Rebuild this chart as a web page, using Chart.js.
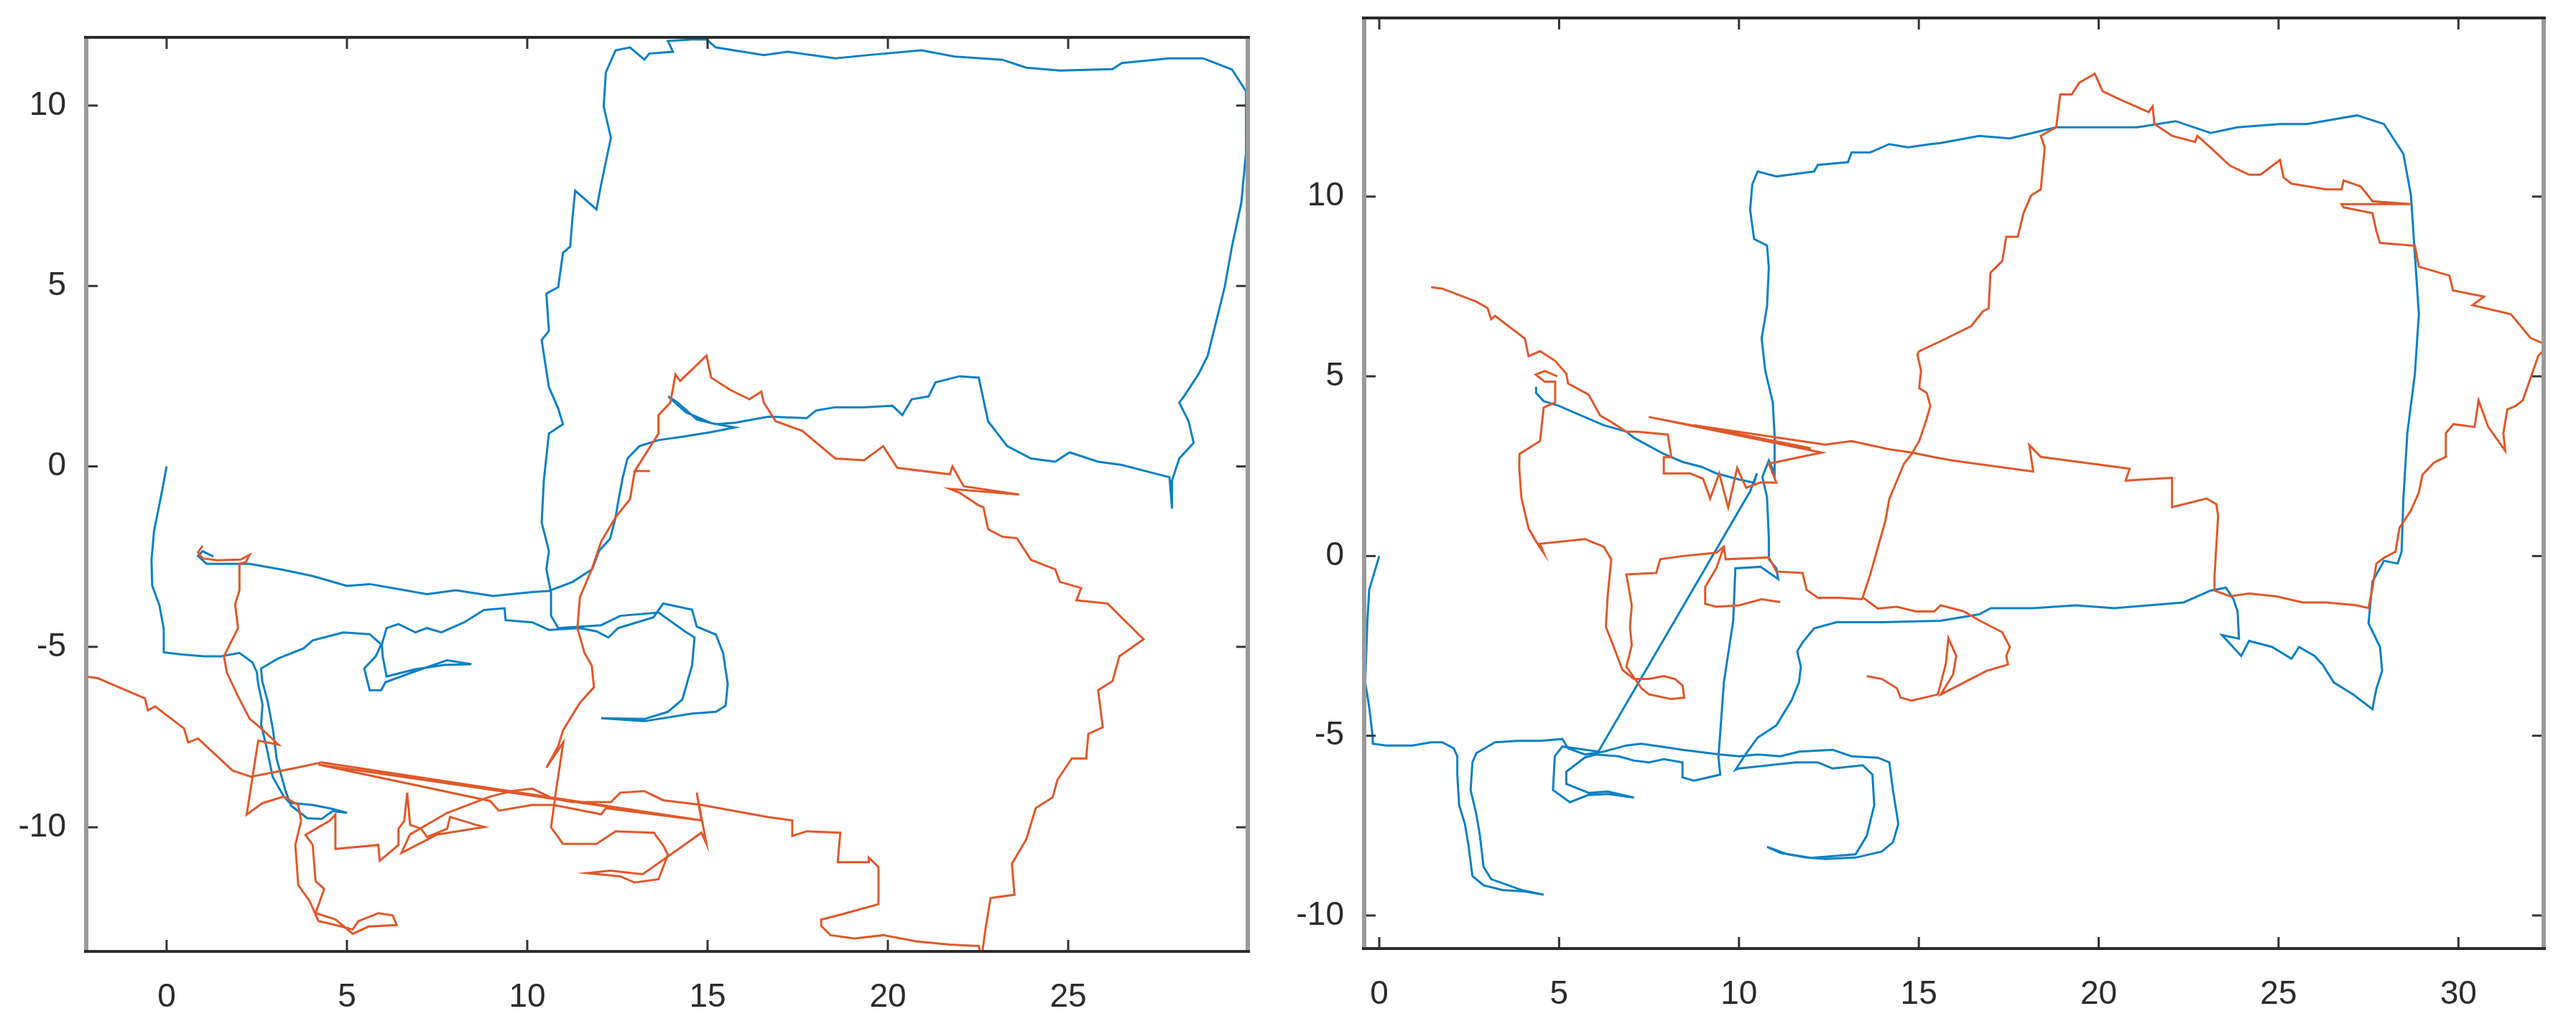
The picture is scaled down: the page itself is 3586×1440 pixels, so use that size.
<!DOCTYPE html>
<html>
<head>
<meta charset="utf-8">
<script src="https://cdn.jsdelivr.net/npm/chart.js@4.4.1/dist/chart.umd.min.js"></script>
<style>
  body { margin: 0; background: #fff; }
  #wrap { position: relative; width: 3586px; height: 1440px; }
  canvas { position: absolute; top: 0; }
</style>
</head>
<body>
<div id="wrap">
  <canvas id="leftChart" width="1800" height="1440" style="left:0"></canvas>
  <canvas id="rightChart" width="1786" height="1440" style="left:1800px"></canvas>
</div>
<script>
// trajectories, [x, y] pairs (null = pen up)
const leftBlue = [
  [0,0],[-0.15,-0.8],[-0.35,-1.8],[-0.42,-2.6],[-0.4,-3.3],[-0.2,-3.85],[-0.08,-4.5],[-0.08,-5.15],
  [0.44,-5.21],[1.03,-5.26],[1.51,-5.26],[2.02,-5.17],[2.38,-5.43],[2.5,-5.7],
  [2.54,-6.04],[2.66,-6.6],[2.62,-7.15],[2.78,-7.82],[2.94,-8.6],[3.25,-9.15],[3.41,-9.32],[4.05,-9.38],[4.6,-9.49],[5.0,-9.6],
  [4.6,-9.55],[4.3,-9.77],[3.9,-9.75],[3.45,-9.4],[3.3,-9.0],[3.05,-8.1],[2.95,-7.3],[2.8,-6.5],[2.65,-5.95],[2.62,-5.6],
  [3.1,-5.32],[3.8,-5.04],[4.05,-4.82],[4.9,-4.6],[5.63,-4.65],[5.95,-4.93],[5.8,-5.26],[5.48,-5.6],[5.63,-6.2],[5.95,-6.2],
  [6.07,-5.98],[6.83,-5.7],[7.78,-5.37],[8.45,-5.48],[7.7,-5.5],[6.9,-5.62],[6.1,-5.82],[5.99,-5.26],[5.97,-4.93],[6.1,-4.48],
  [6.43,-4.37],[6.9,-4.6],[7.22,-4.48],[7.62,-4.6],[8.25,-4.32],[8.8,-3.98],[9.37,-3.93],[9.4,-4.26],[10.14,-4.32],[10.6,-4.53],
  [11.46,-4.48],[11.92,-4.57],[12.25,-4.74],[12.52,-4.48],[13.5,-4.18],[13.77,-3.8],[14.57,-3.97],[14.7,-4.44],[15.23,-4.66],
  [15.43,-5.17],[15.56,-6.03],[15.5,-6.63],[15.23,-6.8],[14.57,-6.85],[13.25,-7.06],[12.05,-6.98],[13.25,-7.0],[13.9,-6.8],
  [14.3,-6.46],[14.57,-5.52],[14.64,-4.74],[14.37,-4.57],[13.64,-4.05],[12.58,-4.14],[12.05,-4.4],[11.3,-4.45],[10.86,-4.48],
  [10.66,-4.14],[10.66,-3.5],[10.53,-2.85],[10.6,-2.34],[10.4,-1.56],[10.46,-0.39],[10.6,0.91],[10.99,1.17],[10.86,1.6],
  [10.6,2.2],[10.4,3.5],[10.6,3.76],[10.53,4.79],[10.86,4.97],[10.99,5.92],[11.19,6.09],[11.26,6.95],[11.33,7.64],[11.92,7.12],
  [12.05,7.82],[12.32,9.11],[12.12,9.97],[12.18,10.92],[12.45,11.53],[12.85,11.61],[13.25,11.27],[13.38,11.44],[14.04,11.49],
  [13.9,11.79],[14.57,11.83],[14.97,11.83],[15.23,11.61],[16.56,11.4],[17.22,11.49],[18.54,11.31],[19.47,11.4],[20.93,11.53],
  [21.85,11.36],[23.17,11.27],[23.84,11.05],[24.77,10.97],[26.23,11.01],[26.49,11.18],[27.81,11.31],[28.74,11.31],[29.54,11.0],
  [29.93,10.4],[29.93,8.68],[29.8,7.3],[29.54,6.09],[29.34,4.97],[28.87,3.07],[28.61,2.55],[28.21,1.94],[28.08,1.77],[28.34,1.25],
  [28.48,0.65],[28.08,0.22],[27.88,-0.39],[27.88,-1.17],[27.81,-0.3],[27.15,-0.13],[26.49,0.04],[25.83,0.13],[25.04,0.39],
  [24.64,0.13],[23.97,0.22],[23.31,0.56],[22.78,1.25],[22.52,2.46],[21.99,2.5],[21.32,2.33],[21.13,1.94],[20.66,1.86],[20.4,1.42],
  [20.13,1.68],[19.34,1.64],[18.54,1.64],[18.01,1.55],[17.75,1.34],[16.69,1.38],[15.76,1.21],[15.23,1.17],[14.7,1.3],[14.17,1.77],
  [13.91,1.94],[14.4,1.5],[15.1,1.2],[15.76,1.08],[15.1,0.95],[14.3,0.82],[13.64,0.73],[13.11,0.56],[12.78,0.22],[12.65,-0.3],
  [12.52,-0.99],[12.45,-1.41],[12.3,-2.0],[11.99,-2.34],[11.8,-2.85],[11.26,-3.2],[10.6,-3.45],[10.14,-3.48],[9.05,-3.59],
  [8.02,-3.43],[7.22,-3.54],[6.27,-3.37],[5.63,-3.26],[5.0,-3.31],[4.05,-3.04],[3.25,-2.87],[2.3,-2.7],[1.11,-2.7],[0.87,-2.48],
  [1.0,-2.35],[1.3,-2.5]
];

const leftOrange = [
  [1.0,-2.2],[0.87,-2.38],[1.0,-2.55],[1.4,-2.6],[2.05,-2.58],[2.3,-2.45],[2.2,-2.65],[2.02,-2.7],[2.02,-3.43],[1.9,-3.82],
  [1.98,-4.48],[1.59,-5.26],[1.67,-5.71],[1.98,-6.37],[2.3,-6.99],[2.62,-7.26],[3.1,-7.71],[2.54,-7.6],[2.22,-9.65],[2.66,-9.33],
  [3.25,-9.15],[3.65,-9.38],[3.73,-9.82],[3.57,-10.49],[3.65,-11.6],[3.97,-12.05],[4.21,-12.6],[4.68,-12.71],[5.16,-12.83],
  [5.32,-12.6],[5.87,-12.38],[6.27,-12.44],[6.38,-12.71],[5.6,-12.75],[5.16,-12.95],[4.68,-12.55],[4.13,-12.38],[4.37,-11.71],
  [4.13,-11.49],[4.05,-10.49],[3.85,-10.21],[4.52,-9.82],[4.68,-9.65],[4.68,-10.6],[5.87,-10.49],[5.91,-10.93],[6.43,-10.49],
  [6.43,-10.04],[6.59,-9.82],[6.67,-9.04],[6.75,-9.93],[7.06,-10.04],[7.22,-10.27],[7.78,-10.04],[7.86,-9.71],[8.57,-9.93],
  [8.81,-9.99],[7.5,-10.2],[6.51,-10.71],[6.75,-10.2],[7.78,-9.6],[8.97,-9.15],[9.6,-8.99],[10.14,-8.93],[10.73,-9.21],
  [11.26,-9.3],[12.32,-9.3],[12.58,-9.04],[13.25,-9.0],[13.77,-9.25],[14.83,-9.38],[16.69,-9.72],[17.35,-9.81],[17.35,-10.24],
  [17.75,-10.11],[18.68,-10.15],[18.61,-10.97],[19.47,-10.97],[19.47,-10.84],[19.74,-11.1],[19.74,-12.13],[18.8,-12.39],
  [18.15,-12.56],[18.15,-12.73],[18.41,-12.99],[19.07,-13.08],[19.87,-12.99],[20.79,-13.16],[21.72,-13.25],[22.52,-13.29],
  [22.6,-13.6],[22.72,-12.73],[22.85,-11.96],[23.51,-11.87],[23.44,-11.01],[23.84,-10.33],[24.1,-9.47],[24.57,-9.17],
  [24.7,-8.69],[25.1,-8.09],[25.5,-8.09],[25.56,-7.41],[25.96,-7.23],[25.83,-6.2],[26.23,-5.95],[26.42,-5.26],[27.09,-4.79],
  [26.09,-3.8],[25.23,-3.71],[25.36,-3.37],[24.77,-3.2],[24.64,-2.85],[23.97,-2.59],[23.58,-1.99],[23.18,-1.95],[22.78,-1.74],
  [22.65,-1.13],[22.52,-1.08],[21.99,-0.73],[21.72,-0.62],[23.64,-0.78],[22.1,-0.55],[21.79,0.0],[21.72,-0.22],[20.26,-0.04],
  [19.87,0.56],[19.34,0.17],[18.54,0.22],[17.62,0.99],[16.89,1.25],[16.56,1.77],[16.49,2.07],[16.16,1.86],[15.63,2.12],
  [15.1,2.46],[14.97,3.07],[14.7,2.81],[14.24,2.37],[14.11,2.55],[13.97,1.77],[13.64,1.42],[13.64,0.91],[12.98,-0.13],
  [13.4,-0.13],[12.98,-0.13],[12.85,-0.91],[12.45,-1.41],[12.05,-2.08],[11.79,-2.85],[11.46,-3.63],[11.39,-4.48],[11.59,-5.17],
  [11.79,-5.52],[11.85,-6.12],[11.46,-6.55],[10.99,-7.32],[10.86,-7.75],[10.53,-8.35],[11.0,-7.65],[10.79,-9.04],[10.66,-10.0],
  [10.99,-10.46],[11.92,-10.46],[12.45,-10.11],[13.51,-10.15],[13.77,-10.5],[13.9,-10.76],[13.64,-11.44],[12.98,-11.53],
  [12.58,-11.36],[11.66,-11.27],[12.3,-11.2],[13.2,-11.3],[14.2,-10.6],[14.83,-10.15],[14.97,-10.46],[14.7,-9.04],[14.83,-9.81],
  [4.21,-8.26],[8.97,-9.27],[9.21,-9.54],[10.14,-9.38],[10.73,-9.38],[12.05,-9.64],[12.18,-9.47],[14.83,-9.81],[4.3,-8.2],
  [3.6,-8.35],[2.34,-8.6],[1.83,-8.43],[0.87,-7.54],[0.6,-7.65],[0.48,-7.26],[-0.32,-6.65],[-0.52,-6.76],[-0.6,-6.43],
  [-1.51,-6.04],[-1.9,-5.87],[-2.4,-5.8]
];

const rightBlue = [
  [0,0],[-0.28,-0.94],[-0.33,-1.8],[-0.39,-3.51],[-0.28,-4.2],[-0.18,-5.05],[-0.18,-5.22],[0.19,-5.27],[0.92,-5.27],[1.44,-5.18],
  [1.75,-5.18],[2.07,-5.35],[2.17,-5.57],[2.17,-6.08],[2.22,-6.93],[2.38,-7.45],[2.48,-8.05],[2.59,-8.9],[2.9,-9.16],[3.42,-9.29],
  [4.05,-9.33],[4.57,-9.42],[3.95,-9.29],[3.11,-8.99],[2.9,-8.65],[2.8,-7.79],[2.7,-7.19],[2.54,-6.51],[2.59,-5.74],[2.7,-5.48],
  [3.22,-5.18],[3.84,-5.14],[4.47,-5.14],[5.09,-5.09],[5.25,-5.35],[5.72,-5.52],[6.24,-5.44],[6.87,-5.27],[7.28,-5.22],[7.91,-5.31],
  [8.43,-5.39],[9.48,-5.52],[10.0,-5.57],[10.52,-5.52],[11.15,-5.57],[11.67,-5.44],[12.6,-5.39],[13.13,-5.57],[13.86,-5.61],
  [14.18,-5.74],[14.28,-6.51],[14.43,-7.45],[14.28,-7.96],[13.97,-8.22],[13.24,-8.39],[12.4,-8.43],[11.88,-8.39],[11.36,-8.3],
  [10.78,-8.09],[11.15,-8.26],[12.0,-8.4],[13.24,-8.3],[13.55,-7.79],[13.76,-6.93],[13.71,-6.08],[13.44,-5.82],[12.6,-5.91],
  [12.19,-5.74],[11.57,-5.74],[10.83,-5.82],[10.0,-5.91],[9.9,-5.95],[10.21,-5.48],[10.52,-5.05],[11.04,-4.71],[11.46,-4.02],
  [11.67,-3.51],[11.72,-3.08],[11.62,-2.65],[11.77,-2.4],[12.09,-2.01],[12.71,-1.84],[13.97,-1.84],[15.6,-1.8],[16.68,-1.62],
  [17.0,-1.45],[18.18,-1.45],[19.36,-1.37],[20.43,-1.45],[21.39,-1.37],[22.36,-1.29],[23.11,-0.96],[23.54,-0.88],[23.75,-1.21],
  [23.86,-1.54],[23.9,-2.3],[23.43,-2.2],[23.96,-2.78],[24.18,-2.36],[24.82,-2.53],[25.36,-2.86],[25.57,-2.53],[26.0,-2.78],
  [26.22,-3.02],[26.54,-3.52],[27.07,-3.85],[27.61,-4.26],[27.72,-3.69],[27.88,-3.19],[27.82,-2.53],[27.5,-1.87],[27.61,-0.71],
  [27.93,-0.13],[28.31,-0.21],[28.42,0.12],[28.47,1.6],[28.58,3.42],[28.79,5.07],[28.9,6.73],[28.79,8.38],[28.68,10.03],
  [28.47,11.19],[27.93,12.02],[27.18,12.26],[25.79,12.02],[25.04,12.02],[23.86,11.93],[23.11,11.77],[22.14,12.1],[21.07,11.93],
  [20.11,11.93],[18.82,11.93],[17.53,11.62],[16.68,11.69],[15.6,11.49],[15.32,11.46],[14.7,11.37],[14.18,11.46],[13.65,11.23],
  [13.13,11.23],[13.03,10.96],[12.19,10.88],[12.09,10.7],[11.04,10.56],[10.52,10.7],[10.37,10.34],[10.31,9.63],[10.42,8.82],
  [10.78,8.64],[10.83,8.02],[10.78,6.95],[10.63,6.05],[10.73,5.16],[10.94,4.27],[10.99,3.38],[10.99,2.3],[10.83,2.66],
  [10.65,2.2],[10.78,1.63],[10.83,0.51],[10.83,-0.09],[11.04,-0.34],[11.09,-0.64],[10.6,-0.3],[9.9,-0.34],[9.84,-1.8],
  [9.58,-3.51],[9.43,-5.6],[9.48,-6.08],[8.75,-6.25],[8.43,-6.16],[8.43,-5.74],[7.91,-5.65],[7.5,-5.74],[7.08,-5.69],[6.66,-5.57],
  [6.03,-5.52],[5.72,-5.6],[5.2,-6.0],[5.2,-6.34],[5.82,-6.59],[6.35,-6.55],[7.08,-6.72],[6.35,-6.62],[5.8,-6.65],[5.3,-6.85],
  [4.83,-6.51],[4.88,-5.57],[5.09,-5.3],[6.09,-5.44],[10.31,1.8],[10.5,2.3],[10.42,2.04],[10.0,2.13],[9.37,2.3],[8.96,2.48],
  [8.43,2.62],[7.91,2.84],[7.08,3.29],[6.87,3.46],[6.24,3.64],[5.82,3.82],[4.99,4.18],[4.57,4.31],[4.36,4.54],[4.36,4.71]
];

const rightOrange = [
  [1.44,7.48],[1.75,7.44],[2.69,7.08],[3.01,6.9],[3.11,6.59],[3.22,6.68],[4.05,6.05],[4.15,5.56],[4.47,5.7],[4.89,5.43],
  [5.2,5.07],[5.25,4.8],[5.82,4.49],[6.14,3.91],[6.45,3.73],[6.87,3.46],[7.18,3.46],[8.02,3.38],[8.12,2.75],[7.91,2.75],
  [7.91,2.3],[8.64,2.3],[9.0,2.15],[9.2,1.6],[9.45,2.3],[9.7,1.35],[9.95,2.45],[10.2,1.9],[10.6,2.05],[11.04,2.04],[10.83,2.57],
  [12.3,2.88],[7.49,3.87],[12.0,3.0],[8.75,3.64],[12.4,3.1],[13.13,3.2],[14.18,2.97],[14.8,2.88],[15.43,2.75],[15.93,2.66],
  [18.18,2.35],[18.07,3.09],[18.39,2.76],[20.86,2.43],[20.75,2.1],[22.04,2.18],[22.04,1.36],[23.0,1.6],[23.27,1.44],[23.32,1.11],
  [23.22,-0.55],[23.22,-0.96],[23.65,-1.12],[24.18,-1.04],[24.93,-1.12],[25.68,-1.29],[26.32,-1.29],[27.18,-1.37],[27.5,-1.45],
  [27.61,-0.88],[27.72,-0.21],[27.93,-0.05],[28.25,0.12],[28.36,0.78],[28.68,1.27],[28.9,1.77],[29.0,2.26],[29.32,2.6],
  [29.65,2.76],[29.65,3.42],[29.86,3.67],[30.45,3.59],[30.56,4.33],[30.83,3.59],[31.3,2.93],[31.25,3.42],[31.36,4.08],
  [31.58,4.17],[31.79,4.33],[32.22,5.57],[32.5,5.85],[32.0,6.07],[31.46,6.73],[30.39,6.98],[30.71,7.22],[29.85,7.39],
  [29.75,7.8],[28.9,8.05],[28.79,8.63],[27.82,8.71],[27.72,9.04],[27.61,9.54],[26.81,9.7],[26.75,9.79],[28.68,9.79],
  [27.61,9.87],[27.29,10.28],[26.81,10.45],[26.75,10.2],[26.32,10.2],[25.36,10.36],[25.14,10.53],[25.04,11.02],[24.5,10.61],
  [24.18,10.61],[23.65,10.86],[23.11,11.36],[22.74,11.69],[22.68,11.52],[22.04,11.69],[21.55,12.02],[21.5,12.51],[21.39,12.35],
  [20.64,12.68],[20.11,12.93],[19.89,13.42],[19.46,13.17],[19.25,12.84],[18.93,12.84],[18.82,11.93],[18.39,11.69],[18.5,11.36],
  [18.39,10.2],[18.12,10.03],[17.91,9.54],[17.75,8.88],[17.43,8.88],[17.32,8.21],[16.99,7.88],[16.94,6.89],[16.78,6.81],
  [16.46,6.4],[15.61,5.98],[15.01,5.7],[14.96,5.61],[15.06,5.16],[15.01,4.67],[15.22,4.54],[15.32,4.18],[15.22,3.82],
  [15.01,3.2],[14.8,2.84],[14.59,2.57],[14.18,1.59],[14.07,0.98],[13.65,-0.51],[13.44,-1.15],[13.86,-1.46],[14.39,-1.41],
  [14.91,-1.54],[15.43,-1.54],[15.61,-1.37],[16.25,-1.54],[16.68,-1.79],[17.32,-2.12],[17.53,-2.53],[17.43,-2.78],[17.48,-3.02],
  [16.89,-3.19],[16.25,-3.52],[15.61,-3.85],[15.95,-3.3],[16.04,-2.78],[15.82,-2.28],[15.75,-3.0],[15.53,-3.85],[14.8,-4.02],
  [14.49,-3.94],[14.39,-3.68],[13.97,-3.42],[13.55,-3.34],
  null,
  [13.44,-1.2],[12.81,-1.16],[12.19,-1.16],[11.88,-0.94],[11.77,-0.47],[11.04,-0.43],[10.83,-0.04],[9.63,-0.09],[9.58,0.26],
  [9.37,0.09],[8.43,0.0],[7.81,-0.09],[7.7,-0.47],[6.87,-0.51],[7.02,-1.37],[6.97,-1.97],[7.02,-2.48],[6.87,-3.08],[7.29,-3.68],
  [7.5,-3.85],[8.12,-3.98],[8.48,-3.94],[8.43,-3.6],[8.22,-3.42],[7.91,-3.34],[7.5,-3.42],[7.08,-3.42],[6.76,-3.17],[6.5,-2.48],
  [6.3,-1.97],[6.35,-1.11],[6.45,-0.09],[6.24,0.26],[5.72,0.47],[4.47,0.34],[4.57,0.09],[4.37,0.39],[4.15,0.77],[3.95,1.63],
  [3.89,2.48],[3.9,2.84],[4.47,3.2],[4.57,4.13],[4.89,4.27],[4.89,4.85],[4.6,4.85],[4.35,5.05],[4.6,5.15],[4.95,5.0],
  null,
  [9.58,0.26],[9.37,-0.34],[9.06,-0.86],[9.06,-1.33],[9.37,-1.41],[10.0,-1.37],[10.63,-1.2],[11.15,-1.28]
];

const tickStep = 5;
const blue = '#0b80c4';
const orange = '#e0582a';

const toPoints = path => path.map(p => p ? { x: p[0], y: p[1] } : { x: null, y: null });

// matlab style box: ticks pointing inward on all four sides
const boxPlugin = {
  id: 'box',
  afterDatasetsDraw(chart) {
    const { ctx, chartArea: a, scales } = chart;
    const seg = (x1, y1, x2, y2) => { ctx.beginPath(); ctx.moveTo(x1, y1); ctx.lineTo(x2, y2); ctx.stroke(); };
    ctx.save();
    ctx.strokeStyle = '#333';
    ctx.lineWidth = 3;
    scales.x.ticks.forEach(t => {
      const px = scales.x.getPixelForValue(t.value);
      seg(px, a.bottom, px, a.bottom - 16);
      seg(px, a.top, px, a.top + 16);
    });
    scales.y.ticks.forEach(t => {
      const py = scales.y.getPixelForValue(t.value);
      seg(a.left, py, a.left + 16, py);
      seg(a.right, py, a.right - 16, py);
    });
    ctx.strokeStyle = '#9a9a9a';
    ctx.lineWidth = 6;
    seg(a.left, a.top - 2, a.left, a.bottom + 2);
    seg(a.right, a.top - 2, a.right, a.bottom + 2);
    ctx.strokeStyle = '#2b2b2b';
    ctx.lineWidth = 4;
    seg(a.left - 3, a.top, a.right + 3, a.top);
    seg(a.left - 3, a.bottom, a.right + 3, a.bottom);
    ctx.restore();
  }
};

// pin the plot box: no extra room reserved for end labels
const noPad = s => { s.paddingTop = 0; s.paddingBottom = 0; s.paddingLeft = 0; s.paddingRight = 0; };

function makeChart(id, bluePath, orangePath, xr, yr, box) {
  const font = { family: "'Liberation Sans', Arial, sans-serif", size: 46 };
  return new Chart(document.getElementById(id), {
    type: 'scatter',
    data: {
      datasets: [
        { data: toPoints(orangePath), borderColor: orange, order: 1 },
        { data: toPoints(bluePath), borderColor: blue, order: 2 }
      ]
    },
    options: {
      responsive: false,
      devicePixelRatio: 1,
      animation: false,
      showLine: true,
      spanGaps: false,
      layout: { padding: { left: 0, right: box.right, top: box.top, bottom: 0 } },
      elements: {
        point: { radius: 0, hoverRadius: 0 },
        line: { borderWidth: 3, tension: 0, fill: false }
      },
      datasets: { scatter: { clip: 0 } },
      plugins: { legend: { display: false }, tooltip: { enabled: false } },
      scales: {
        x: {
          type: 'linear', min: xr[0], max: xr[1],
          afterFit: s => { s.height = box.xh; noPad(s); },
          grid: { display: false },
          border: { display: false },
          ticks: { stepSize: tickStep, includeBounds: false, padding: 29, color: '#2b2b2b', font }
        },
        y: {
          type: 'linear', min: yr[0], max: yr[1],
          afterFit: s => { s.width = box.yw; noPad(s); },
          grid: { display: false },
          border: { display: false },
          ticks: { stepSize: tickStep, includeBounds: false, padding: 20, color: '#2b2b2b', font }
        }
      }
    },
    plugins: [boxPlugin]
  });
}

makeChart('leftChart', leftBlue, leftOrange, [-2.23, 29.98], [-13.44, 11.89],
  { yw: 120, right: 63, top: 52, xh: 115 });
makeChart('rightChart', rightBlue, rightOrange, [-0.42, 32.37], [-10.92, 14.97],
  { yw: 99, right: 45, top: 25, xh: 119 });
</script>
</body>
</html>
